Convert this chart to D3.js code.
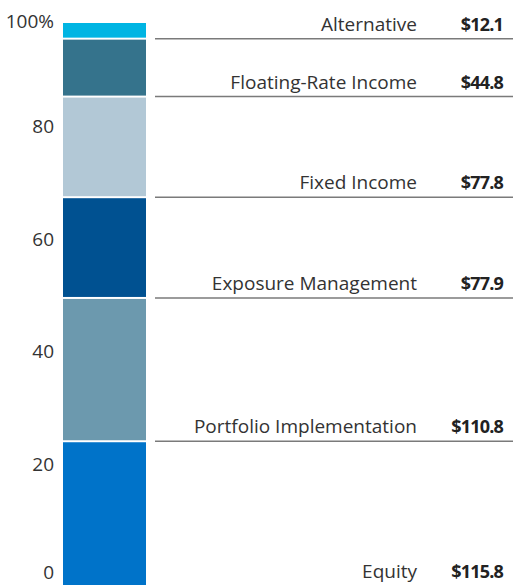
<!DOCTYPE html>
<html>
<head>
<meta charset="utf-8">
<script src="https://cdn.jsdelivr.net/npm/d3@7"></script>
<style>
  html, body { margin: 0; padding: 0; background: #fff; }
  svg { display: block; }
  text { font-family: "Open Sans", "Lato", sans-serif; }
</style>
</head>
<body>
<svg id="chart" width="513" height="585"></svg>
<script>
// Data (bottom to top), values in $ billions
const categories = ["Equity", "Portfolio Implementation", "Exposure Management", "Fixed Income", "Floating-Rate Income", "Alternative"];
const values = [115.8, 110.8, 77.9, 77.8, 44.8, 12.1];
const valueLabels = ["$115.8", "$110.8", "$77.9", "$77.8", "$44.8", "$12.1"];
const colors = ["#0073c9", "#6c99ae", "#005191", "#b2c8d6", "#35738c", "#00b5e3"];
const tickValues = [0, 20, 40, 60, 80, 100];
const tickLabels = ["0", "20", "40", "60", "80", "100%"];

const svg = d3.select("#chart");
const W = 513;

const total = d3.sum(values);
let cum = 0;
const segs = values.map((v, i) => {
  const s = { cat: categories[i], label: valueLabels[i], color: colors[i],
    start: cum / total * 100, end: (cum + v) / total * 100 };
  cum += v;
  return s;
});

const y = d3.scaleLinear().domain([0, 100]).range([591, 23]);
const x = d3.scaleBand().domain(["all"]).range([63, 146]).padding(0);

// Bars
svg.append("g").selectAll("rect").data(segs).join("rect")
  .attr("x", x("all"))
  .attr("width", x.bandwidth())
  .attr("y", d => y(d.end) + (d.end < 100 ? 1 : 0))
  .attr("height", d => y(d.start) - y(d.end) - (d.end < 100 ? 1 : 0) - 1)
  .attr("fill", d => d.color);

// Leader lines at segment bottoms
svg.append("g").selectAll("line").data(segs.filter(d => d.start > 0)).join("line")
  .attr("x1", 155).attr("x2", W)
  .attr("y1", d => y(d.start)).attr("y2", d => y(d.start))
  .attr("stroke", "#7a7a7a").attr("stroke-width", 1.5);

// Category labels
svg.append("g").selectAll("text").data(segs).join("text")
  .attr("x", 417)
  .attr("y", d => Math.min(y(d.start), 586) - 8)
  .attr("text-anchor", "end")
  .attr("font-size", 19)
  .attr("fill", "#333")
  .text(d => d.cat);

// Value labels
svg.append("g").selectAll("text").data(segs).join("text")
  .attr("x", 503)
  .attr("y", d => Math.min(y(d.start), 586) - 8)
  .attr("text-anchor", "end")
  .attr("font-size", 18)
  .attr("font-weight", 700)
  .attr("letter-spacing", "-0.8px")
  .attr("fill", "#222")
  .text(d => d.label);

// Y axis tick labels
const yl = d3.scaleLinear().domain([0, 100]).range([583, 20.5]);
svg.append("g").selectAll("text").data(tickValues).join("text")
  .attr("x", 54)
  .attr("y", d => Math.min(Math.max(yl(d), 28), 579))
  .attr("text-anchor", "end")
  .attr("font-size", 19)
  .attr("fill", "#333")
  .text((d, i) => tickLabels[i]);
</script>
</body>
</html>
